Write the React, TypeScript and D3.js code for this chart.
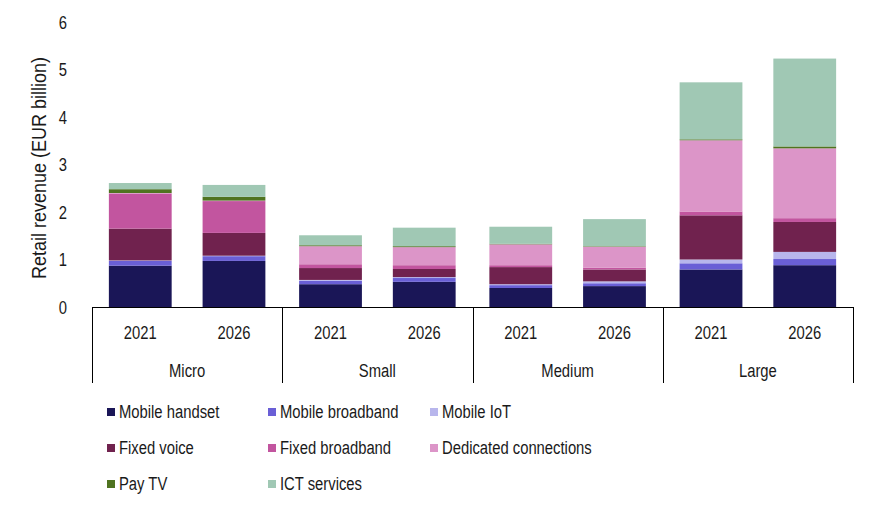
import { useEffect, useRef } from 'react';
import * as d3 from 'd3';

const sizes = ['Micro', 'Small', 'Medium', 'Large'];
const years = ['2021', '2026'];
const seriesNames = [
  'Mobile handset',
  'Mobile broadband',
  'Mobile IoT',
  'Fixed voice',
  'Fixed broadband',
  'Dedicated connections',
  'Pay TV',
  'ICT services',
];
const colors = ['#1a1657', '#6a5fd6', '#b8b6ec', '#70224e', '#c2559f', '#dc95c8', '#4f7320', '#a0c8b4'];

// values per bar: Micro 2021, Micro 2026, Small 2021, Small 2026, Medium 2021, Medium 2026, Large 2021, Large 2026
const mobileHandset = [0.87, 0.97, 0.48, 0.53, 0.4, 0.44, 0.79, 0.88];
const mobileBroadband = [0.1, 0.1, 0.07, 0.08, 0.06, 0.06, 0.13, 0.13];
const mobileIoT = [0.01, 0.01, 0.02, 0.02, 0.02, 0.04, 0.08, 0.15];
const fixedVoice = [0.67, 0.48, 0.25, 0.17, 0.36, 0.25, 0.93, 0.63];
const fixedBroadband = [0.74, 0.67, 0.08, 0.08, 0.04, 0.04, 0.08, 0.08];
const dedicated = [0.01, 0.01, 0.38, 0.38, 0.44, 0.44, 1.5, 1.47];
const payTV = [0.08, 0.08, 0.02, 0.02, 0.01, 0.01, 0.02, 0.04];
const ictServices = [0.13, 0.25, 0.21, 0.39, 0.36, 0.57, 1.2, 1.85];

const yTicks = [0, 1, 2, 3, 4, 5, 6];

const FONT = '"Liberation Sans", Arial, sans-serif';
const SQUEEZE = 0.78; // reference uses a narrow font

const App = () => {
  const svgRef = useRef<SVGSVGElement | null>(null);

  useEffect(() => {
    const svg = d3.select(svgRef.current);
    svg.selectAll('*').remove();

    const width = 880;
    const height = 511;
    const margin = { top: 22, left: 92, right: 27 };
    const y0 = 307;
    const boxBottom = 383;

    const allSeries = [mobileHandset, mobileBroadband, mobileIoT, fixedVoice, fixedBroadband, dedicated, payTV, ictServices];
    const rows = sizes.flatMap((s, i) =>
      years.map((yr, j) => {
        const row: Record<string, any> = { size: s, year: yr };
        seriesNames.forEach((n, k) => (row[n] = allSeries[k][i * 2 + j]));
        return row;
      })
    );

    const x0 = d3.scaleBand().domain(sizes).range([margin.left, width - margin.right]);
    const x1 = d3.scaleBand().domain(years).range([0, x0.bandwidth()]).paddingInner(0.33).paddingOuter(0.18);
    const y = d3.scaleLinear().domain([0, 6]).range([y0, margin.top]);

    const stacked = d3.stack<any>().keys(seriesNames)(rows);

    svg.attr('width', width).attr('height', height).style('font-family', FONT);

    // bars
    stacked.forEach((layer, k) => {
      svg.append('g')
        .attr('fill', colors[k])
        .selectAll('rect')
        .data(layer)
        .enter()
        .append('rect')
        .attr('x', d => x0(d.data.size)! + x1(d.data.year)!)
        .attr('y', d => y(d[1]))
        .attr('width', x1.bandwidth())
        .attr('height', d => y(d[0]) - y(d[1]));
    });

    const at = (x: number, yy: number) => `translate(${x},${yy}) scale(${SQUEEZE},1)`;

    // y tick labels
    svg.append('g')
      .selectAll('text')
      .data(yTicks)
      .enter()
      .append('text')
      .attr('transform', d => at(67, y(d)))
      .attr('dy', '0.35em')
      .attr('text-anchor', 'end')
      .attr('font-size', 19)
      .attr('fill', '#1a1a1a')
      .text(d => d);

    // y title
    svg.append('text')
      .attr('transform', `translate(39,168) rotate(-90) scale(0.9,1)`)
      .attr('text-anchor', 'middle')
      .attr('dy', '0.35em')
      .attr('font-size', 20)
      .attr('fill', '#1a1a1a')
      .text('Retail revenue (EUR billion)');

    // category axis box
    const axis = svg.append('g').attr('stroke', '#000').attr('stroke-width', 1);
    axis.append('line')
      .attr('x1', margin.left).attr('x2', width - margin.right)
      .attr('y1', y0 + 0.5).attr('y2', y0 + 0.5);
    const edges = [...sizes.map(s => x0(s)!), x0(sizes[sizes.length - 1])! + x0.bandwidth()];
    axis.selectAll('.sep')
      .data(edges)
      .enter()
      .append('line')
      .attr('x1', d => Math.round(d) + 0.5).attr('x2', d => Math.round(d) + 0.5)
      .attr('y1', y0).attr('y2', boxBottom);

    // year labels
    svg.append('g')
      .selectAll('text')
      .data(rows)
      .enter()
      .append('text')
      .attr('transform', d => at(x0(d.size)! + x1(d.year)! + x1.bandwidth() / 2, 332))
      .attr('dy', '0.35em')
      .attr('text-anchor', 'middle')
      .attr('font-size', 19)
      .attr('fill', '#1a1a1a')
      .text(d => d.year);

    // size labels
    svg.append('g')
      .selectAll('text')
      .data(sizes)
      .enter()
      .append('text')
      .attr('transform', d => at(x0(d)! + x0.bandwidth() / 2, 370))
      .attr('dy', '0.35em')
      .attr('text-anchor', 'middle')
      .attr('font-size', 19)
      .attr('fill', '#1a1a1a')
      .text(d => d);

    // legend
    const colX = [107, 268, 430];
    const rowY = [411, 447, 483];
    const legend = svg.append('g')
      .selectAll('g')
      .data(seriesNames)
      .enter()
      .append('g')
      .attr('transform', (_, i) => `translate(${colX[i % 3]},${rowY[Math.floor(i / 3)]})`);
    legend.append('rect')
      .attr('x', 0).attr('y', -3)
      .attr('width', 8).attr('height', 8)
      .attr('fill', (_, i) => colors[i]);
    legend.append('text')
      .attr('transform', at(12, 0))
      .attr('dy', '0.35em')
      .attr('font-size', 19)
      .attr('fill', '#1a1a1a')
      .text(d => d);
  }, []);

  return <svg ref={svgRef} style={{ position: 'absolute', left: 0, top: 0 }}></svg>;
};

export default App;
